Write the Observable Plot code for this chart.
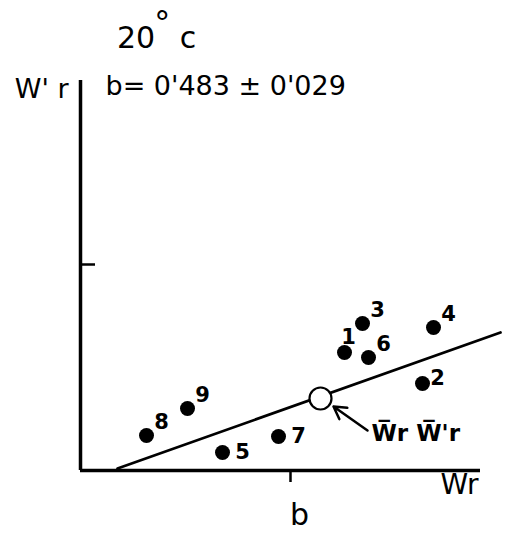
<!DOCTYPE html>
<html><head><meta charset="utf-8">
<script src="https://cdn.jsdelivr.net/npm/d3@7"></script>
<script src="https://cdn.jsdelivr.net/npm/@observablehq/plot@0.6"></script>
<style>
body{margin:0;background:#fff;}
#wrap{position:relative;width:505px;height:541px;}
#title{position:absolute;left:117px;top:22px;font-family:"DejaVu Sans",sans-serif;font-size:30px;line-height:30px;color:#000;white-space:nowrap;}
#title .deg{font-size:32px;position:relative;top:-14px;margin-left:-1px;}
</style></head><body>
<div id="wrap"><div id="title">20<span class="deg">°</span> c</div></div>
<script>
// ---- data ----
const labels = ["1", "2", "3", "4", "5", "6", "7", "8", "9"];
const wr  = [26.4, 34.2, 28.2, 35.3, 14.2, 28.8, 19.8, 6.6, 10.7];
const wpr = [11.8, 8.7, 14.7, 14.3, 1.8, 11.3, 3.4, 3.5, 6.2];
const meanWr = [24.0];
const meanWpr = [7.2];
const fitWr = [3.7, 42.0];
const fitWpr = [0.2, 13.8];
const arrowFrom = [28.7, 4.0];
const arrowTo = [25.3, 6.4];
const xTicks = [21];
const yTicks = [20.6];
const xAxisExtent = [0, 40];
const yAxisExtent = [0, 39.0];
const slopeText = "b= 0'483 ± 0'029";
const xLabel = "Wr";
const yLabel = "W' r";
const panelLabel = "b";
const meanLabel = "W\u0305r W\u0305'r";

// ---- build ----
const points = labels.map((l, i) => ({label: l, x: wr[i], y: wpr[i]}));
const meanPt = meanWr.map((x, i) => ({x, y: meanWpr[i]}));
const fit = fitWr.map((x, i) => ({x, y: fitWpr[i]}));
const arrow = [{x1: arrowFrom[0], y1: arrowFrom[1], x2: arrowTo[0], y2: arrowTo[1]}];
const offsets = {"1": [4, -15], "2": [15, -5], "5": [20, 0], "7": [20, 0]};
const labelMarks = points.map(p => {
  const [dx, dy] = offsets[p.label] || [15, -13];
  return Plot.text([p], {x: "x", y: "y", text: "label", dx, dy, fontSize: 21, fontWeight: "bold", fill: "#000"});
});

const chart = Plot.plot({
  width: 505, height: 541,
  marginLeft: 80, marginRight: 5, marginTop: 62, marginBottom: 71,
  x: {domain: [0, 42]},
  y: {domain: [0, 40.8]},
  style: {fontFamily: '"DejaVu Sans", sans-serif', background: "#fff", color: "#000"},
  marks: [
    Plot.ruleY([0], {x1: xAxisExtent[0], x2: xAxisExtent[1], strokeWidth: 3.5}),
    Plot.ruleX([0], {y1: yAxisExtent[0], y2: yAxisExtent[1], strokeWidth: 3.5}),
    Plot.axisX(xTicks, {tickSize: 12, tickFormat: () => "", strokeWidth: 2.5, label: null}),
    Plot.axisY(yTicks, {tickSize: -15, tickFormat: () => "", strokeWidth: 2.5, label: null}),
    Plot.line(fit, {x: "x", y: "y", strokeWidth: 2.7, stroke: "#000"}),
    Plot.dot(points, {x: "x", y: "y", r: 7.5, fill: "#000"}),
    Plot.dot(meanPt, {x: "x", y: "y", r: 11, fill: "#fff", stroke: "#000", strokeWidth: 2.2}),
    Plot.arrow(arrow, {x1: "x1", y1: "y1", x2: "x2", y2: "y2", headLength: 12, strokeWidth: 2.5, stroke: "#000"}),
    Plot.text(arrow, {x: "x1", y: "y1", text: () => meanLabel, textAnchor: "start", dx: 4, dy: 3, fontSize: 23, fontWeight: "bold"}),
    ...labelMarks,
    Plot.text([yLabel], {frameAnchor: "top-left", text: d => d, textAnchor: "end", dx: -12, dy: 16, fontSize: 27}),
    Plot.text([slopeText], {frameAnchor: "top-left", text: d => d, textAnchor: "start", dx: 25, dy: 13, fontSize: 27}),
    Plot.text([xLabel], {frameAnchor: "bottom-right", text: d => d, textAnchor: "end", dx: -22, dy: 23, fontSize: 28}),
    Plot.text(xTicks, {x: d => d, frameAnchor: "bottom", text: () => panelLabel, dx: 9, dy: 54, fontSize: 30})
  ]
});
document.getElementById("wrap").prepend(chart);
</script>
</body></html>
